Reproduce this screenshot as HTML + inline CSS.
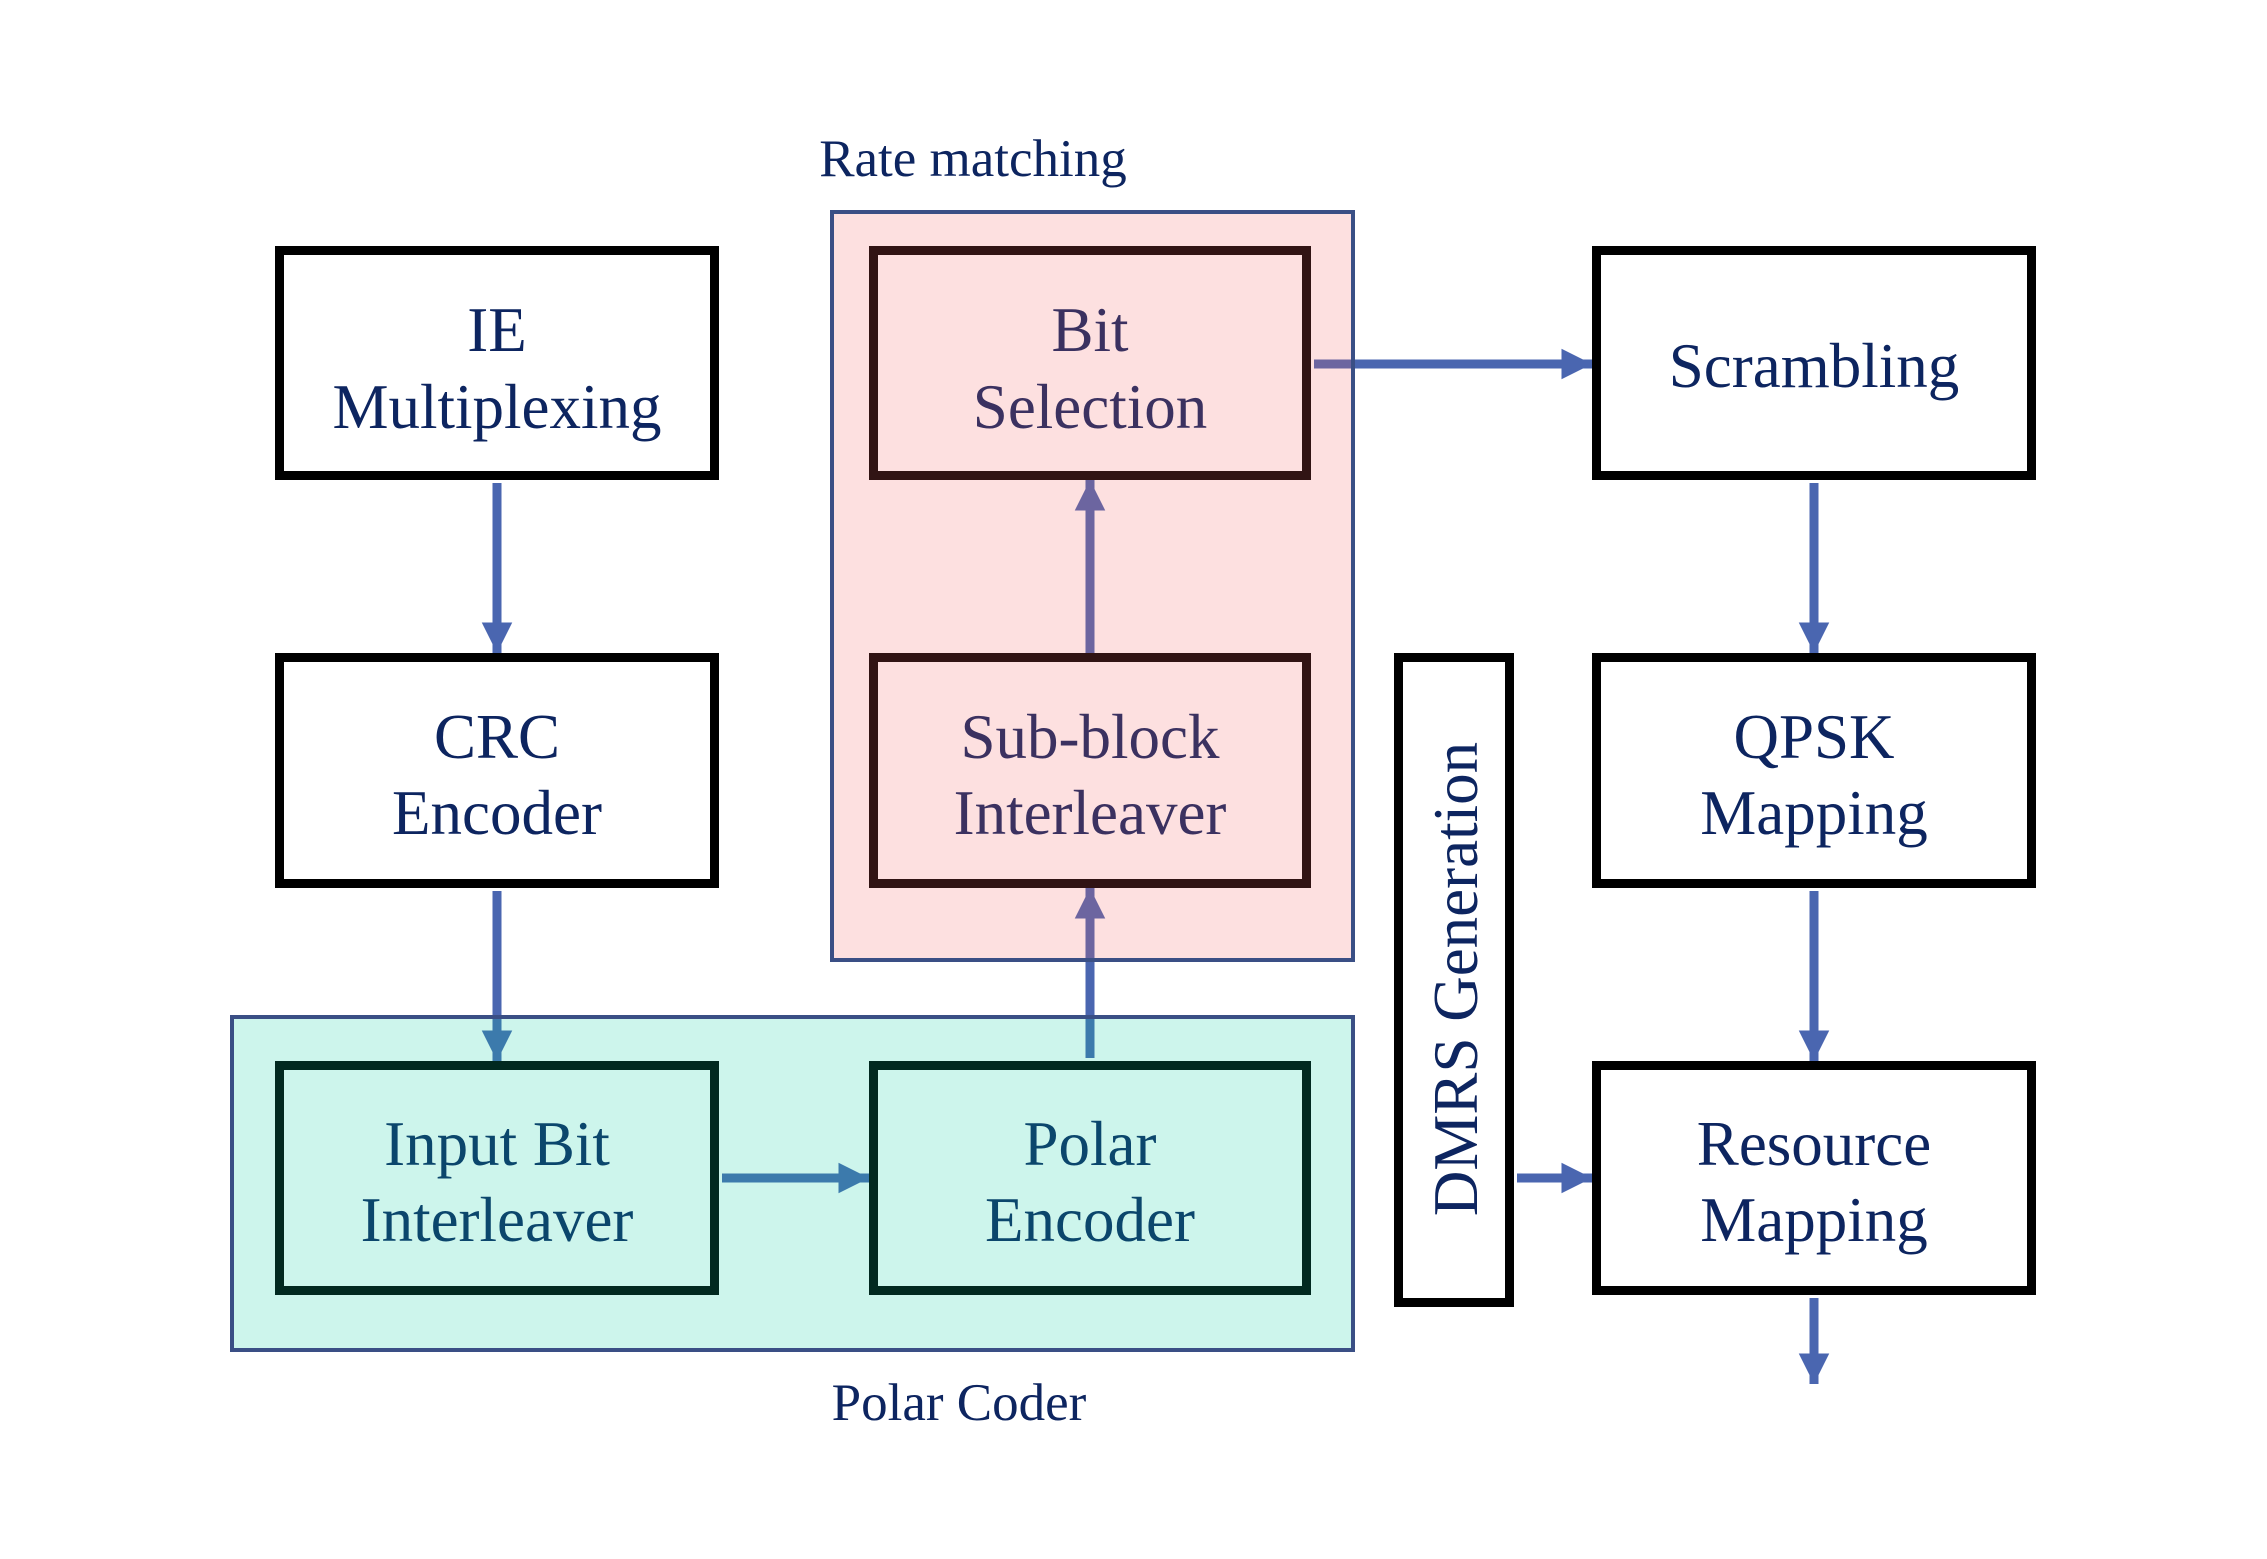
<!DOCTYPE html>
<html><head><meta charset="utf-8"><style>html,body{margin:0;padding:0;background:#fff}svg{display:block}</style></head>
<body>
<svg width="2267" height="1559" viewBox="0 0 2267 1559" xmlns="http://www.w3.org/2000/svg" font-family="'Liberation Serif', serif">
<defs>
<marker id="ah" markerWidth="3.4" markerHeight="3.4" refX="3.4" refY="1.7" orient="auto" markerUnits="strokeWidth">
<path d="M0,0 L3.4,1.7 L0,3.4 Z" fill="#4a66b0"/>
</marker>
</defs>
<rect width="2267" height="1559" fill="#fff"/>
<g stroke="#4a66b0" stroke-width="9" fill="none" marker-end="url(#ah)">
<line x1="497" y1="483" x2="497" y2="653"/>
<line x1="497" y1="891" x2="497" y2="1061"/>
<line x1="1090" y1="653" x2="1090" y2="480"/>
<line x1="1090" y1="1058" x2="1090" y2="888"/>
<line x1="722" y1="1178" x2="869" y2="1178"/>
<line x1="1314" y1="364" x2="1592" y2="364"/>
<line x1="1814" y1="483" x2="1814" y2="653"/>
<line x1="1814" y1="891" x2="1814" y2="1061"/>
<line x1="1814" y1="1298" x2="1814" y2="1384"/>
<line x1="1517" y1="1178" x2="1592" y2="1178"/>
</g>
<g fill="#fff" stroke="#000" stroke-width="9">
<rect x="279.5" y="250.5" width="435" height="225"/>
<rect x="279.5" y="657.5" width="435" height="226"/>
<rect x="279.5" y="1065.5" width="435" height="225"/>
<rect x="873.5" y="1065.5" width="433" height="225"/>
<rect x="873.5" y="250.5" width="433" height="225"/>
<rect x="873.5" y="657.5" width="433" height="226"/>
<rect x="1596.5" y="250.5" width="435" height="225"/>
<rect x="1596.5" y="657.5" width="435" height="226"/>
<rect x="1596.5" y="1065.5" width="435" height="225"/>
<rect x="1398.5" y="657.5" width="111" height="645"/>
</g>
<g fill="#0d2560" font-size="63" text-anchor="middle">
<text x="497" y="351">IE</text><text x="497" y="428">Multiplexing</text>
<text x="497" y="758">CRC</text><text x="497" y="834">Encoder</text>
<text x="497" y="1165">Input Bit</text><text x="497" y="1241">Interleaver</text>
<text x="1090" y="1165">Polar</text><text x="1090" y="1241">Encoder</text>
<text x="1090" y="351">Bit</text><text x="1090" y="428">Selection</text>
<text x="1090" y="758">Sub-block</text><text x="1090" y="834">Interleaver</text>
<text x="1814" y="387">Scrambling</text>
<text x="1814" y="758">QPSK</text><text x="1814" y="834">Mapping</text>
<text x="1814" y="1165">Resource</text><text x="1814" y="1241">Mapping</text>
<text transform="translate(1477,979) rotate(-90)">DMRS Generation</text>
</g>
<rect x="832" y="212" width="521" height="748" fill="rgba(245,102,98,0.2)" stroke="#3a4f85" stroke-width="4"/>
<rect x="232" y="1017" width="1121" height="333" fill="rgba(5,205,160,0.2)" stroke="#3a4f85" stroke-width="4"/>
<g fill="#0d2560" font-size="53" text-anchor="middle">
<text x="973" y="176">Rate matching</text>
<text x="959" y="1420">Polar Coder</text>
</g>
</svg>
</body></html>
